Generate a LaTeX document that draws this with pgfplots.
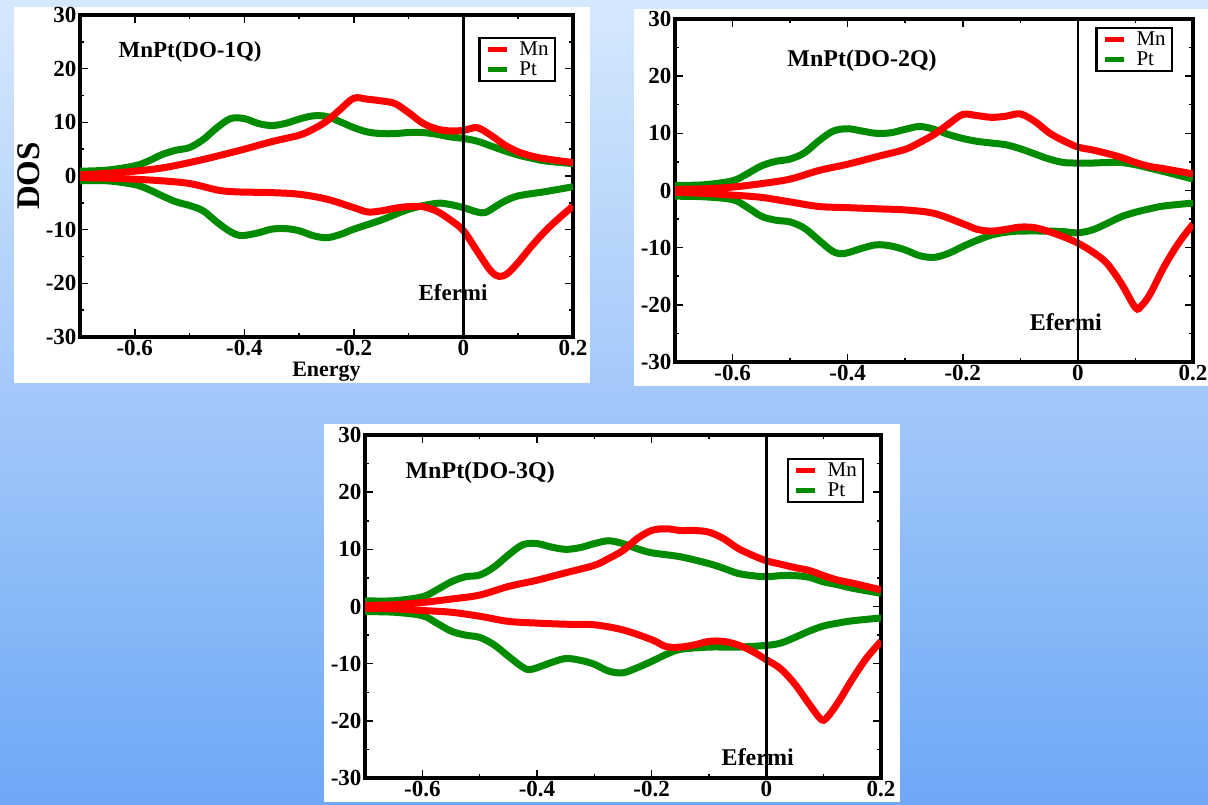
\documentclass[border=0pt]{standalone}
\usepackage{fontspec}
\setmainfont{Liberation Serif}
\usepackage{pgfplots}
\pgfplotsset{compat=1.18}
\definecolor{mnred}{RGB}{255,0,0}
\definecolor{ptgreen}{RGB}{0,139,0}
\definecolor{bgtop}{RGB}{214,232,253}
\definecolor{bgbot}{RGB}{110,168,246}

\pgfplotsset{
  dosaxis/.style={
    scale only axis,
    xmin=-0.7, xmax=0.2, ymin=-30, ymax=30,
    xtick={-0.6,-0.4,-0.2,0,0.2}, xticklabels={-0.6,-0.4,-0.2,0,0.2},
    ytick={-30,-20,-10,0,10,20,30}, yticklabels={-30,-20,-10,0,10,20,30},
    minor x tick num=1, minor y tick num=1,
    tick align=inside,
    major tick length=8pt, minor tick length=4pt,
    every tick/.style={black, line width=1.5pt},
    axis line style={line width=4pt},
    ticklabel style={font=\fontsize{23}{23}\selectfont\bfseries},
    legend style={anchor=north east, draw=black, line width=2.2pt, fill=white,
      font=\fontsize{21}{20}\selectfont, inner xsep=6pt, inner ysep=3pt,
      column sep=10pt, row sep=3pt,
      nodes={inner sep=0pt, text height=14.5pt, text depth=2.5pt}},
    legend cell align=left,
    legend image code/.code={\draw[##1, line width=5pt] (0pt,0pt) -- (19pt,0pt);},
  },
  mn/.style={color=mnred, line width=7pt, smooth, tension=0.55},
  pt/.style={color=ptgreen, line width=7pt, smooth, tension=0.55},
  ef/.style={black, line width=2.5pt},
}

\begin{document}
\begin{tikzpicture}
\shade[top color=bgtop, bottom color=bgbot] (0pt,0pt) rectangle (1208pt,804pt);
\fill[white] (14pt,421pt) rectangle (590pt,797pt);
\fill[white] (634pt,418pt) rectangle (1208pt,795pt);
\fill[white] (324pt,2pt) rectangle (900pt,380pt);

% ---------------- Panel 1 ----------------
\begin{axis}[dosaxis, at={(80pt,467pt)}, anchor=south west,
  width=493pt, height=322pt,
  xlabel={Energy}, ylabel={DOS},
  xlabel style={at={(axis description cs:0.5,-0.109)}, anchor=center,
    font=\fontsize{22}{22}\selectfont\bfseries},
  ylabel style={at={(axis description cs:-0.1034,0.5)}, anchor=center,
    font=\fontsize{33}{33}\selectfont\bfseries},
  legend style={at={(0.965,0.932)}}]
\addplot[pt, forget plot] coordinates {(-0.7,0.9) (-0.65,1.1) (-0.6,1.9) (-0.575,2.8) (-0.55,4.0) (-0.525,4.8) (-0.5,5.3) (-0.475,6.8) (-0.45,9.0) (-0.425,10.7) (-0.4,10.7) (-0.375,9.8) (-0.35,9.4) (-0.325,9.8) (-0.3,10.6) (-0.275,11.2) (-0.25,11.1) (-0.225,10.1) (-0.2,9.0) (-0.175,8.2) (-0.15,7.9) (-0.125,7.9) (-0.1,8.1) (-0.075,8.1) (-0.05,7.8) (-0.025,7.3) (0,7.0) (0.025,6.5) (0.05,5.6) (0.075,4.7) (0.1,3.9) (0.125,3.3) (0.15,2.8) (0.2,2.3)};
\addplot[pt, forget plot] coordinates {(-0.7,-0.9) (-0.65,-0.9) (-0.6,-1.6) (-0.575,-2.5) (-0.55,-3.7) (-0.525,-4.8) (-0.5,-5.5) (-0.475,-6.5) (-0.45,-8.6) (-0.425,-10.4) (-0.405,-11.1) (-0.375,-10.6) (-0.35,-9.9) (-0.325,-9.8) (-0.3,-10.2) (-0.275,-11.1) (-0.25,-11.5) (-0.225,-10.9) (-0.2,-9.9) (-0.15,-8.2) (-0.1,-6.2) (-0.05,-5.1) (-0.025,-5.3) (0,-5.9) (0.025,-6.7) (0.04,-6.8) (0.06,-5.6) (0.075,-4.7) (0.1,-3.7) (0.15,-2.9) (0.2,-2.0)};
\addplot[mn] coordinates {(-0.7,0.2) (-0.65,0.5) (-0.6,0.9) (-0.55,1.5) (-0.5,2.5) (-0.45,3.7) (-0.4,5.0) (-0.35,6.4) (-0.3,7.6) (-0.275,8.7) (-0.25,10.2) (-0.225,12.4) (-0.2,14.5) (-0.175,14.3) (-0.15,14.0) (-0.125,13.5) (-0.1,11.8) (-0.075,9.9) (-0.05,8.8) (-0.025,8.4) (0,8.5) (0.025,9.0) (0.05,7.6) (0.075,5.8) (0.1,4.5) (0.125,3.7) (0.15,3.2) (0.2,2.5)};
\addlegendentry{Mn}
\addplot[mn, forget plot] coordinates {(-0.7,-0.3) (-0.65,-0.4) (-0.6,-0.6) (-0.55,-0.9) (-0.5,-1.4) (-0.45,-2.6) (-0.425,-2.9) (-0.4,-3.0) (-0.35,-3.1) (-0.3,-3.4) (-0.25,-4.3) (-0.2,-5.9) (-0.175,-6.7) (-0.15,-6.5) (-0.125,-6.0) (-0.1,-5.7) (-0.075,-5.7) (-0.05,-6.5) (-0.025,-8.1) (0,-10.2) (0.025,-14.0) (0.05,-17.7) (0.065,-18.7) (0.08,-18.2) (0.1,-16.1) (0.125,-13.0) (0.15,-10.2) (0.175,-7.8) (0.2,-5.6)};
\addlegendimage{pt}
\addlegendentry{Pt}
\addplot[ef, forget plot] coordinates {(0,-30) (0,30)};
\node[font=\fontsize{23}{23}\selectfont\bfseries] at (axis cs:-0.499,23.1) {MnPt(DO-1Q)};
\node[font=\fontsize{23}{23}\selectfont\bfseries] at (axis cs:-0.019,-21.8) {Efermi};
\end{axis}

% ---------------- Panel 2 ----------------
\begin{axis}[dosaxis, at={(675pt,442pt)}, anchor=south west,
  width=518pt, height=343pt,
  legend style={at={(0.961,0.977)}}]
\addplot[pt, forget plot] coordinates {(-0.7,0.9) (-0.65,1.0) (-0.6,1.7) (-0.575,2.9) (-0.55,4.3) (-0.525,5.1) (-0.5,5.5) (-0.475,6.6) (-0.45,8.7) (-0.425,10.4) (-0.4,10.8) (-0.375,10.4) (-0.35,10.0) (-0.325,10.1) (-0.3,10.7) (-0.275,11.2) (-0.25,10.7) (-0.225,9.8) (-0.2,9.1) (-0.175,8.6) (-0.15,8.3) (-0.125,8.0) (-0.1,7.3) (-0.075,6.4) (-0.05,5.5) (-0.025,4.9) (0,4.8) (0.025,4.8) (0.05,4.9) (0.075,4.9) (0.1,4.5) (0.125,3.9) (0.15,3.3) (0.2,2.0)};
\addplot[pt, forget plot] coordinates {(-0.7,-1.0) (-0.65,-1.1) (-0.6,-1.6) (-0.575,-2.9) (-0.55,-4.5) (-0.525,-5.2) (-0.5,-5.5) (-0.475,-6.6) (-0.45,-8.7) (-0.425,-10.7) (-0.405,-11.0) (-0.375,-10.1) (-0.35,-9.5) (-0.325,-9.7) (-0.3,-10.4) (-0.275,-11.4) (-0.25,-11.7) (-0.225,-11.0) (-0.2,-9.8) (-0.175,-8.7) (-0.15,-7.8) (-0.125,-7.3) (-0.1,-7.1) (-0.05,-7.1) (-0.025,-7.2) (0,-7.4) (0.025,-6.9) (0.05,-5.8) (0.075,-4.6) (0.1,-3.8) (0.125,-3.2) (0.15,-2.7) (0.2,-2.2)};
\addplot[mn] coordinates {(-0.7,0.2) (-0.65,0.3) (-0.6,0.6) (-0.55,1.2) (-0.5,2.0) (-0.45,3.5) (-0.4,4.6) (-0.35,5.9) (-0.3,7.2) (-0.275,8.4) (-0.25,9.8) (-0.225,11.6) (-0.2,13.3) (-0.175,13.1) (-0.15,12.8) (-0.125,13.0) (-0.1,13.4) (-0.075,12.1) (-0.05,10.1) (-0.025,8.7) (0,7.6) (0.025,7.1) (0.05,6.5) (0.075,5.8) (0.1,4.9) (0.125,4.2) (0.15,3.8) (0.2,2.9)};
\addlegendentry{Mn}
\addplot[mn, forget plot] coordinates {(-0.7,-0.3) (-0.65,-0.5) (-0.6,-0.8) (-0.55,-1.2) (-0.5,-2.0) (-0.45,-2.8) (-0.4,-3.0) (-0.35,-3.2) (-0.3,-3.4) (-0.25,-4.0) (-0.2,-5.8) (-0.175,-6.8) (-0.15,-7.1) (-0.125,-6.8) (-0.1,-6.4) (-0.075,-6.5) (-0.05,-7.2) (-0.025,-8.1) (0,-9.2) (0.025,-10.7) (0.05,-12.7) (0.075,-16.2) (0.1,-20.5) (0.11,-20.2) (0.125,-18.2) (0.15,-13.3) (0.175,-9.2) (0.2,-5.9)};
\addlegendimage{pt}
\addlegendentry{Pt}
\addplot[ef, forget plot] coordinates {(0,-30) (0,30)};
\node[font=\fontsize{24}{24}\selectfont\bfseries] at (axis cs:-0.375,22.65) {MnPt(DO-2Q)};
\node[font=\fontsize{24}{24}\selectfont\bfseries] at (axis cs:-0.021,-23) {Efermi};
\end{axis}

% ---------------- Panel 3 ----------------
\begin{axis}[dosaxis, at={(365pt,26pt)}, anchor=south west,
  width=516pt, height=343pt,
  legend style={at={(0.967,0.933)}}]
\addplot[pt, forget plot] coordinates {(-0.7,1.0) (-0.65,1.0) (-0.6,1.7) (-0.575,2.9) (-0.55,4.3) (-0.525,5.2) (-0.5,5.5) (-0.475,6.9) (-0.45,9.0) (-0.425,10.8) (-0.4,11.0) (-0.375,10.4) (-0.35,10.0) (-0.325,10.3) (-0.3,11.0) (-0.275,11.5) (-0.25,11.0) (-0.225,10.1) (-0.2,9.4) (-0.15,8.7) (-0.1,7.5) (-0.075,6.7) (-0.05,5.8) (-0.025,5.4) (0,5.2) (0.025,5.4) (0.05,5.4) (0.075,5.1) (0.1,4.3) (0.125,3.8) (0.15,3.2) (0.2,2.3)};
\addplot[pt, forget plot] coordinates {(-0.7,-0.9) (-0.65,-1.0) (-0.6,-1.6) (-0.575,-2.9) (-0.55,-4.3) (-0.525,-5.0) (-0.5,-5.4) (-0.475,-6.7) (-0.45,-8.7) (-0.425,-10.6) (-0.41,-11.0) (-0.375,-9.8) (-0.35,-9.1) (-0.325,-9.4) (-0.3,-10.1) (-0.275,-11.3) (-0.25,-11.6) (-0.225,-10.7) (-0.2,-9.6) (-0.175,-8.4) (-0.15,-7.5) (-0.1,-7.1) (-0.05,-7.1) (0,-6.8) (0.025,-6.4) (0.05,-5.4) (0.075,-4.3) (0.1,-3.4) (0.125,-2.9) (0.15,-2.5) (0.2,-2.0)};
\addplot[mn] coordinates {(-0.7,0.2) (-0.65,0.3) (-0.6,0.7) (-0.55,1.3) (-0.5,2.0) (-0.45,3.5) (-0.4,4.6) (-0.35,5.9) (-0.3,7.2) (-0.275,8.4) (-0.25,9.8) (-0.225,11.9) (-0.2,13.3) (-0.175,13.6) (-0.15,13.3) (-0.125,13.3) (-0.1,13.0) (-0.075,11.9) (-0.05,10.2) (-0.025,9.0) (0,8.0) (0.025,7.4) (0.05,6.8) (0.075,6.3) (0.1,5.4) (0.125,4.6) (0.15,4.1) (0.2,2.9)};
\addlegendentry{Mn}
\addplot[mn, forget plot] coordinates {(-0.7,-0.3) (-0.65,-0.4) (-0.6,-0.7) (-0.55,-1.0) (-0.5,-1.7) (-0.45,-2.6) (-0.4,-2.9) (-0.35,-3.1) (-0.3,-3.2) (-0.25,-4.1) (-0.2,-5.8) (-0.175,-7.0) (-0.15,-7.1) (-0.125,-6.7) (-0.1,-6.1) (-0.075,-6.1) (-0.05,-6.7) (-0.025,-7.8) (0,-9.3) (0.025,-10.9) (0.05,-13.6) (0.075,-17.1) (0.095,-19.7) (0.105,-19.5) (0.125,-16.8) (0.15,-12.7) (0.175,-9.0) (0.2,-6.1)};
\addlegendimage{pt}
\addlegendentry{Pt}
\addplot[ef, forget plot] coordinates {(0,-30) (0,30)};
\node[font=\fontsize{24}{24}\selectfont\bfseries] at (axis cs:-0.499,23.35) {MnPt(DO-3Q)};
\node[font=\fontsize{24}{24}\selectfont\bfseries] at (axis cs:-0.015,-26.3) {Efermi};
\end{axis}

\pgfresetboundingbox
\path[use as bounding box] (0pt,0pt) rectangle (1208pt,804pt);
\end{tikzpicture}
\end{document}
